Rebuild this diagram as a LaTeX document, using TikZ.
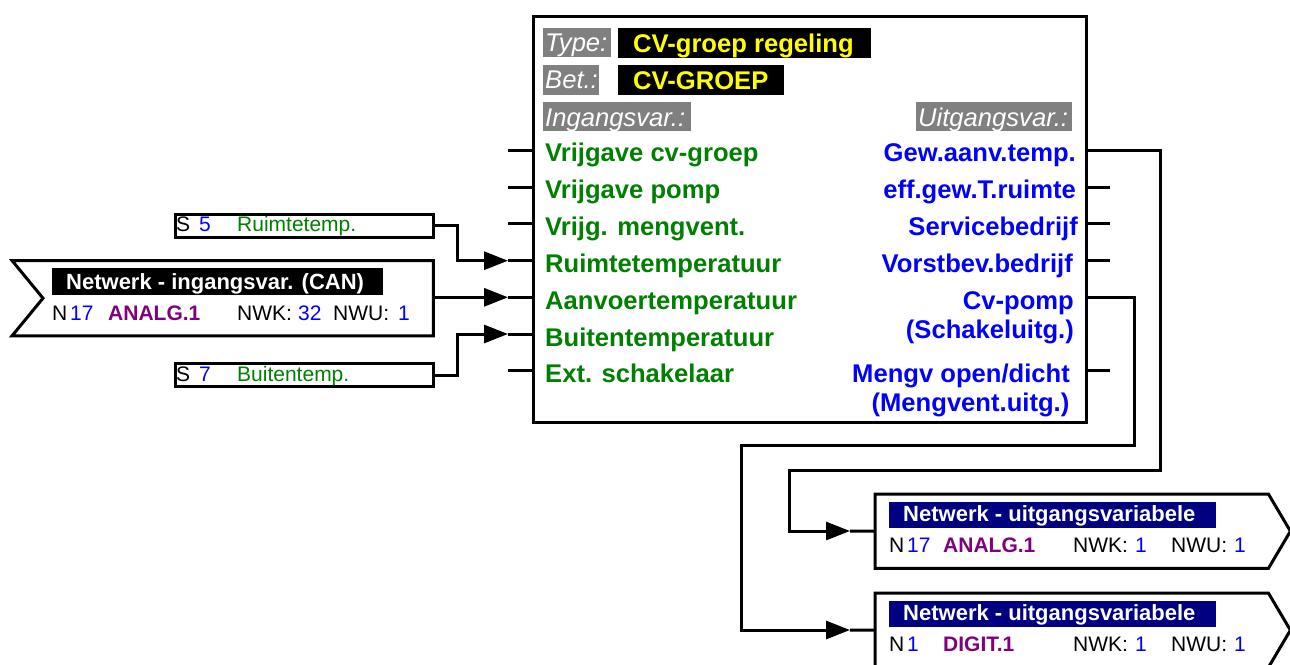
\documentclass[tikz,border=0pt]{standalone}
\usepackage{fontspec}
\setmainfont{Liberation Sans}
\usetikzlibrary{arrows.meta,calc}

\definecolor{sigGreen}{RGB}{0,128,0}
\definecolor{sigBlue}{RGB}{0,0,255}
\definecolor{sigPurple}{RGB}{128,0,128}
\definecolor{sigNavy}{RGB}{0,0,128}
\definecolor{tagGray}{RGB}{128,128,128}
\definecolor{tagYellow}{RGB}{255,255,0}

\newcommand{\bigsize}{\fontsize{25.6}{30}\selectfont}
\newcommand{\labsize}{\fontsize{22}{26}\selectfont}
\newcommand{\rowsize}{\fontsize{21}{25}\selectfont}
\newcommand{\srcsize}{\fontsize{21}{25}\selectfont}

\begin{document}
\begin{tikzpicture}[x=1pt,y=-1pt,
  wire/.style={line width=3pt},
  flow/.style={wire,-{Triangle[length=24pt,width=18pt]}},
  frame/.style={draw,line width=3pt,inner sep=0pt,fill=white},
  slot/.style={inner sep=0pt},
  txt/.style={anchor=base west,inner sep=0pt},
  invar/.style={txt,font=\bfseries\bigsize,text=sigGreen},
  outvar/.style={anchor=base east,inner sep=0pt,font=\bfseries\bigsize,text=sigBlue},
  tagtext/.style={txt,font=\itshape\bigsize,text=white},
  valtext/.style={txt,font=\bfseries\bigsize,text=tagYellow},
  labtext/.style={txt,font=\bfseries\labsize,text=white},
  rowtext/.style={txt,font=\rowsize},
  rowbold/.style={txt,font=\bfseries\rowsize,text=sigPurple},
  srctext/.style={txt,font=\srcsize}
]
\useasboundingbox (0,0) rectangle (1290,664);

% ---------- function block ----------
\node[frame,minimum width=553pt,minimum height=406pt,anchor=north west] (fb) at (531.5,14.5) {};

% header tags
\fill[tagGray] (543,27.5) rectangle (611,56.5);
\node[tagtext] (tType) at (545,51.5) {Type:};
\fill[black] (618,27.5) rectangle (871,57.5);
\node[valtext] (vType) at (633,52.5) {CV-groep regeling};

\fill[tagGray] (543,64.5) rectangle (599,94.5);
\node[tagtext] (tBet) at (545,88.5) {Bet.:};
\fill[black] (618,64.5) rectangle (784,95);
\node[valtext] (vBet) at (633,89.5) {CV-GROEP};

\fill[tagGray] (543,101.5) rectangle (691,131);
\node[tagtext] (tIn) at (545,126) {Ingangsvar.:};
\fill[tagGray] (916,101.5) rectangle (1072,131);
\node[tagtext] (tOut) at (918,126) {Uitgangsvar.:};

% input ports
\foreach \y [count=\i] in {150,187,223.7,260.7,297.3,334,370.7} {
  \coordinate (inStub\i) at (508,\y);
  \coordinate (inPort\i) at (fb.west |- inStub\i);
  \draw[wire] (inStub\i) -- (inPort\i);
}
\node[invar] (i1) at (545,161.7) {Vrijgave cv-groep};
\node[invar] (i2) at (545,198.3) {Vrijgave pomp};
\node[invar] (i3) at (545,235)   {Vrijg. mengvent.};
\node[invar] (i4) at (545,272.7) {Ruimtetemperatuur};
\node[invar] (i5) at (545,309)   {Aanvoertemperatuur};
\node[invar] (i6) at (545,346)   {Buitentemperatuur};
\node[invar] (i7) at (545,382.7) {Ext. schakelaar};

% output ports
\foreach \y [count=\i] in {150,187,223.7,260.7,297.3,334,370.7} {
  \coordinate (outPort\i) at (fb.east |- 0,\y);
  \coordinate (outStub\i) at (1110,\y);
}
\foreach \i in {2,3,4,7} { \draw[wire] (outPort\i) -- (outStub\i); }
\node[outvar] (o1) at (1076,161.7) {Gew.aanv.temp.};
\node[outvar] (o2) at (1076,198.3) {eff.gew.T.ruimte};
\node[outvar] (o3) at (1078,235)   {Servicebedrijf};
\node[outvar] (o4) at (1073,272.7) {Vorstbev.bedrijf};
\node[outvar] (o5) at (1074,309)   {Cv-pomp};
\node[outvar] (o5b) at (1074,338.5) {(Schakeluitg.)};
\node[outvar] (o7) at (1070,382.5) {Mengv open/dicht};
\node[outvar] (o7b) at (1069.5,411.5) {(Mengvent.uitg.)};

% ---------- sensor inputs ----------
\node[frame,minimum width=258pt,minimum height=23pt,anchor=north west] (s5) at (173.5,212.5) {};
\node[srctext] (s5a) at (176,231.5) {S};
\node[srctext,text=sigBlue] (s5b) at (199,231.5) {5};
\node[srctext,text=sigGreen] (s5c) at (237,231.5) {Ruimtetemp.};

\node[frame,minimum width=258pt,minimum height=23pt,anchor=north west] (s7) at (173.5,362) {};
\node[srctext] (s7a) at (176,381) {S};
\node[srctext,text=sigBlue] (s7b) at (199,381) {7};
\node[srctext,text=sigGreen] (s7c) at (237,381) {Buitentemp.};

% ---------- network input ----------
\node[slot,minimum width=421pt,minimum height=75pt,anchor=north west] (netIn) at (12,260.5) {};
\draw[wire,fill=white] (netIn.north west) -- (netIn.north east) -- (netIn.south east)
  -- (netIn.south west) -- ($(netIn.west)+(31,0)$) -- cycle;
\fill[black] (52,268) rectangle (383,295);
\node[labtext] (netInLab) at (66,289) {Netwerk - ingangsvar. (CAN)};
\node[rowtext] (niN) at (52,320.5) {N};
\node[rowtext,text=sigBlue] (niNum) at (70,320.5) {17};
\node[rowbold] (niKind) at (108,320.5) {ANALG.1};
\node[rowtext] (niK) at (237,320.5) {NWK:};
\node[rowtext,text=sigBlue] (niKv) at (298,320.5) {32};
\node[rowtext] (niU) at (333,320.5) {NWU:};
\node[rowtext,text=sigBlue] (niUv) at (398,320.5) {1};

% ---------- network outputs ----------
\node[slot,minimum width=393pt,minimum height=74pt,anchor=north west] (netOut1) at (875,494) {};
\draw[wire,fill=white] (netOut1.north west) -- (netOut1.north east) -- ($(netOut1.east)+(22,0)$)
  -- (netOut1.south east) -- (netOut1.south west) -- cycle;
\fill[sigNavy] (889,502) rectangle (1216,527.5);
\node[labtext] (no1Lab) at (903,521.5) {Netwerk - uitgangsvariabele};
\node[rowtext] (no1N) at (889,552.5) {N};
\node[rowtext,text=sigBlue] (no1Num) at (907,552.5) {17};
\node[rowbold] (no1Kind) at (943,552.5) {ANALG.1};
\node[rowtext] (no1K) at (1073,552.5) {NWK:};
\node[rowtext,text=sigBlue] (no1Kv) at (1135,552.5) {1};
\node[rowtext] (no1U) at (1171,552.5) {NWU:};
\node[rowtext,text=sigBlue] (no1Uv) at (1234,552.5) {1};

\node[slot,minimum width=393pt,minimum height=74pt,anchor=north west] (netOut2) at (875,593) {};
\draw[wire,fill=white] (netOut2.north west) -- (netOut2.north east) -- ($(netOut2.east)+(22,0)$)
  -- (netOut2.south east) -- (netOut2.south west) -- cycle;
\fill[sigNavy] (889,601) rectangle (1216,626.5);
\node[labtext] (no2Lab) at (903,620.5) {Netwerk - uitgangsvariabele};
\node[rowtext] (no2N) at (889,651.5) {N};
\node[rowtext,text=sigBlue] (no2Num) at (907,651.5) {1};
\node[rowbold] (no2Kind) at (943,651.5) {DIGIT.1};
\node[rowtext] (no2K) at (1073,651.5) {NWK:};
\node[rowtext,text=sigBlue] (no2Kv) at (1135,651.5) {1};
\node[rowtext] (no2U) at (1171,651.5) {NWU:};
\node[rowtext,text=sigBlue] (no2Uv) at (1234,651.5) {1};

% ---------- connections ----------
\draw[flow] (s5.east) -| (457,260.7) -- (inStub4);
\draw[flow] (netIn.east |- inStub5) -- (inStub5);
\draw[flow] (s7.east) -| (457,334) -- (inStub6);

\coordinate (tip1) at (850,531);
\coordinate (tip2) at (850,630);
\draw[flow] (outPort1) -- (1160,150) -- (1160,470) -- (789,470) -- (789,531) -- (tip1);
\draw[wire] (tip1) -- (netOut1.west);
\draw[flow] (outPort5) -- (1134,297.3) -- (1134,445) -- (741,445) -- (741,630) -- (tip2);
\draw[wire] (tip2) -- (netOut2.west);
\end{tikzpicture}
\end{document}
